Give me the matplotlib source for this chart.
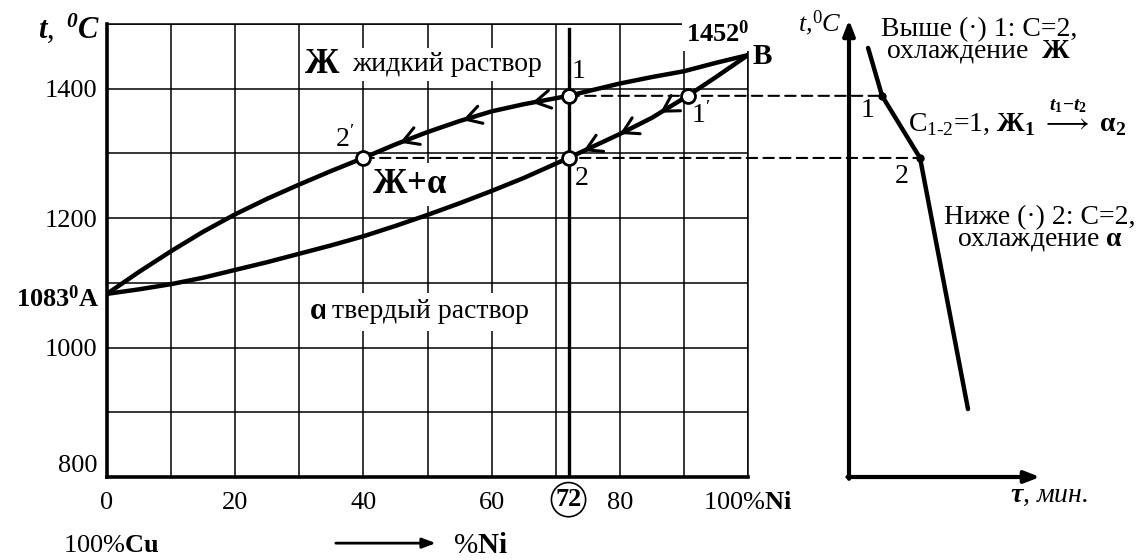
import matplotlib
matplotlib.use("Agg")
import numpy as np
from matplotlib import pyplot as plt
from matplotlib.patches import ConnectionPatch

plt.rcParams["font.family"] = "Liberation Serif"
plt.rcParams["mathtext.fontset"] = "custom"
plt.rcParams["mathtext.rm"] = "Liberation Serif"
plt.rcParams["mathtext.it"] = "Liberation Serif:italic"
plt.rcParams["mathtext.bf"] = "Liberation Serif:bold"
plt.rcParams["mathtext.bfit"] = "Liberation Serif:italic:bold"

# Диаграмма Cu-Ni: линия ликвидус (верхняя) и солидус (нижняя)
ni_liq = [0, 5, 10, 15, 20, 25, 30, 35, 40, 45, 50, 55, 60, 65, 72, 80, 85, 90, 95, 100]
t_liq = [1083, 1117, 1149, 1179, 1206, 1230, 1252, 1273, 1293, 1314, 1333, 1350,
         1365, 1376, 1389, 1408, 1418, 1427, 1440, 1452]
ni_sol = [0, 5, 10, 15, 20, 25, 30, 35, 40, 45, 50, 55, 60, 65, 72, 80, 85, 90.6, 95, 100]
t_sol = [1083, 1090, 1098, 1108, 1120, 1132, 1145, 1158, 1172, 1188, 1205, 1223,
         1242, 1262, 1293, 1330, 1355, 1389, 1418, 1452]

alloy = 72          # сплав 72 % Ni
t1, t2 = 1389, 1293  # начало и конец кристаллизации
ni_1p = 90.6        # состав α в точке 1'
ni_2p = 40          # состав Ж в точке 2'

# положения стрелок на линиях (движение к точкам 2' и 2)
liq_arrows = [45.7, 55.5, 66.3]
sol_arrows = [74.3, 80.0, 86.3]

# кривая охлаждения сплава
tau = [1.0, 1.73, 3.72, 6.23]
t_cool = [1463, t1, t2, 905]

x_ticks = np.arange(0, 101, 10)
x_labels = ["0", "", "20", "", "40", "", "60", "", "80", "", r"100%$\mathbf{Ni}$"]
y_ticks = np.arange(800, 1501, 100)
y_labels = ["800", "", "1000", "", "1200", "", "1400", ""]

FS = 20
TS = 19

fig = plt.figure(figsize=(11.43, 5.6), dpi=100)
ax = fig.add_axes([107 / 1143, 83 / 560, 641 / 1143, 453 / 560])
ax2 = fig.add_axes([849 / 1143, 83 / 560, 191 / 1143, 453 / 560])

# ---------------- диаграмма состояния ----------------
ax.set_xlim(0, 100)
ax.set_ylim(800, 1500)
ax.set_xticks(x_ticks, x_labels)
ax.set_yticks(y_ticks, y_labels)
ax.tick_params(length=0, labelsize=TS)
ax.tick_params(axis="x", pad=11)
ax.tick_params(axis="y", pad=7)
ax.get_yticklabels()[0].set_verticalalignment("bottom")
ax.grid(True, color="black", lw=1.1)
ax.set_axisbelow(True)
for s in ["top", "right"]:
    ax.spines[s].set_linewidth(1.1)
for s in ["left", "bottom"]:
    ax.spines[s].set_linewidth(2.6)

ax.axvline(alloy, ymax=0.99, color="black", lw=2.4, zorder=3)
ax.plot(ni_liq, t_liq, color="black", lw=3.2, solid_capstyle="round", zorder=3)
ax.plot(ni_sol, t_sol, color="black", lw=3.2, solid_capstyle="round", zorder=3)

arrow_style = dict(arrowstyle="->,head_length=0.55,head_width=0.32",
                   lw=2.2, color="black", shrinkA=0, shrinkB=0,
                   mutation_scale=20)
for xs, ni, tt in [(liq_arrows, ni_liq, t_liq), (sol_arrows, ni_sol, t_sol)]:
    for xa in xs:
        ya = np.interp(xa, ni, tt)
        yb = np.interp(xa + 2.5, ni, tt)
        ax.annotate("", xy=(xa, ya), xytext=(xa + 2.5, yb),
                    arrowprops=arrow_style, zorder=4)

# пунктир от точек 1 и 2' к кривой охлаждения
for xa, ta, tt in [(alloy, tau[1], t1), (ni_2p, tau[2], t2)]:
    con = ConnectionPatch(xyA=(xa, tt), coordsA=ax.transData,
                          xyB=(ta, tt), coordsB=ax2.transData,
                          ls=(0, (5, 3)), lw=1.5, color="black",
                          zorder=4, clip_on=False)
    ax.add_artist(con)

ax.plot([alloy, ni_2p, alloy, ni_1p], [t1, t2, t2, t1], "o", ms=10,
        mfc="white", mec="black", mew=2, zorder=5, clip_on=False)

# подписи областей: белая подложка закрывает сетку, но не линии
white = dict(boxstyle="square,pad=0.15", fc="white", ec="none")
ax.text(30.9, 1437, "Ж", fontsize=25, fontweight="bold", va="center", zorder=2.6)
ax.text(38.2, 1437, "жидкий раствор", fontsize=FS, va="center",
        bbox=white, zorder=2.6)
ax.text(31.5, 1055, r"$\mathbf{α}$", fontsize=23, va="center", zorder=2.6)
ax.text(35.1, 1055, "твердый раствор", fontsize=FS, va="center",
        bbox=dict(boxstyle="square,pad=0.25", fc="white", ec="none"), zorder=2.6)
ax.text(47.2, 1252, r"$\mathbf{Ж{+}α}$", fontsize=25, ha="center", va="center",
        bbox=white, zorder=2.6)

ax.text(100.3, 1472, r"1452$^{\mathbf{0}}$", fontsize=TS, fontweight="bold",
        ha="right", va="baseline", bbox=white, zorder=2.6, clip_on=False)
ax.text(100.7, 1438, "B", fontsize=21, fontweight="bold", va="baseline",
        zorder=6, clip_on=False)
ax.text(-1.1, 1063, r"1083$^{\mathbf{0}}$A", fontsize=TS, fontweight="bold",
        ha="right", va="baseline", clip_on=False)
ax.text(-1.1, 1478, r"$\mathbfit{t},\ ^{\mathbfit{0}}\mathbfit{C}$", fontsize=22,
        ha="right", va="baseline", clip_on=False)

ax.text(73.6, 1427, "1", fontsize=FS, ha="center", va="center")
ax.text(92.6, 1359, r"1$^{\prime}$", fontsize=FS, ha="center", va="center")
ax.text(37.1, 1321, r"2$^{\prime}$", fontsize=FS, ha="center", va="center")
ax.text(74.1, 1262, "2", fontsize=FS, ha="center", va="center")

ax.text(alloy, -0.05, r"$\mathbf{72}$", fontsize=TS, ha="center", va="center",
        transform=ax.get_xaxis_transform(),
        bbox=dict(boxstyle="circle,pad=0.14", fc="white", ec="black", lw=1.2))

ax.text(0.006, -0.152, r"100%$\mathbf{Cu}$", fontsize=TS, ha="center",
        va="center", transform=ax.transAxes)
ax.annotate("", xy=(0.513, -0.146), xytext=(0.357, -0.146),
            xycoords="axes fraction",
            arrowprops=dict(arrowstyle="-|>,head_length=0.8,head_width=0.3",
                            lw=2, color="black", shrinkA=0, shrinkB=0))
ax.text(0.54, -0.152, r"%$\mathbf{Ni}$", fontsize=TS + 2, ha="left",
        va="center", transform=ax.transAxes)

# ---------------- кривая охлаждения ----------------
ax2.set_xlim(0, 10)
ax2.set_ylim(800, 1500)
ax2.axis("off")
ax2.patch.set_visible(False)

axis_arrow = dict(arrowstyle="-|>,head_length=0.9,head_width=0.35",
                  lw=3, color="black", shrinkA=0, shrinkB=0)
ax2.annotate("", xy=(0, 1.009), xytext=(0, -0.004), xycoords="axes fraction",
             arrowprops=axis_arrow)
ax2.annotate("", xy=(1.0, 0), xytext=(-0.008, 0), xycoords="axes fraction",
             arrowprops=axis_arrow)

ax2.plot(tau, t_cool, color="black", lw=3.2, solid_capstyle="round",
         clip_on=False)
ax2.plot(tau[1:3], t_cool[1:3], "o", ms=5, color="black", clip_on=False)

ax2.text(-0.4, 1488, r"t,$^{0}$C", fontsize=19, style="italic", ha="right",
         va="baseline", clip_on=False)
ax2.text(6.8, 1474, "Выше (·) 1: С=2,\n" r"охлаждение  $\mathbf{Ж}$",
         fontsize=FS, ha="center", va="center", multialignment="center",
         linespacing=0.8, clip_on=False)
ax2.text(0.99, 1367, "1", fontsize=FS, ha="center", va="center")
ax2.text(3.09, 1355,
         r"С$_{1\text{-}2}$=1, $\mathbf{Ж_1}\ \overset{\mathbfit{t}_{\mathbf{1}}"
         r"\mathbf{-}\mathbfit{t}_{\mathbf{2}}}{\longrightarrow}\ \mathbf{α_2}$",
         fontsize=FS, va="center", clip_on=False)
ax2.text(2.77, 1264, "2", fontsize=FS, ha="center", va="center")
ax2.text(10.0, 1183, "Ниже (·) 2: С=2,\n" r"охлаждение $\mathbf{α}$",
         fontsize=FS, ha="center", va="center", multialignment="center",
         linespacing=0.8, clip_on=False)
ax2.text(8.43, 772, r"$\mathbfit{τ}$, мин.", fontsize=FS, style="italic",
         va="center", clip_on=False)

fig.savefig("out.png", dpi=100)
